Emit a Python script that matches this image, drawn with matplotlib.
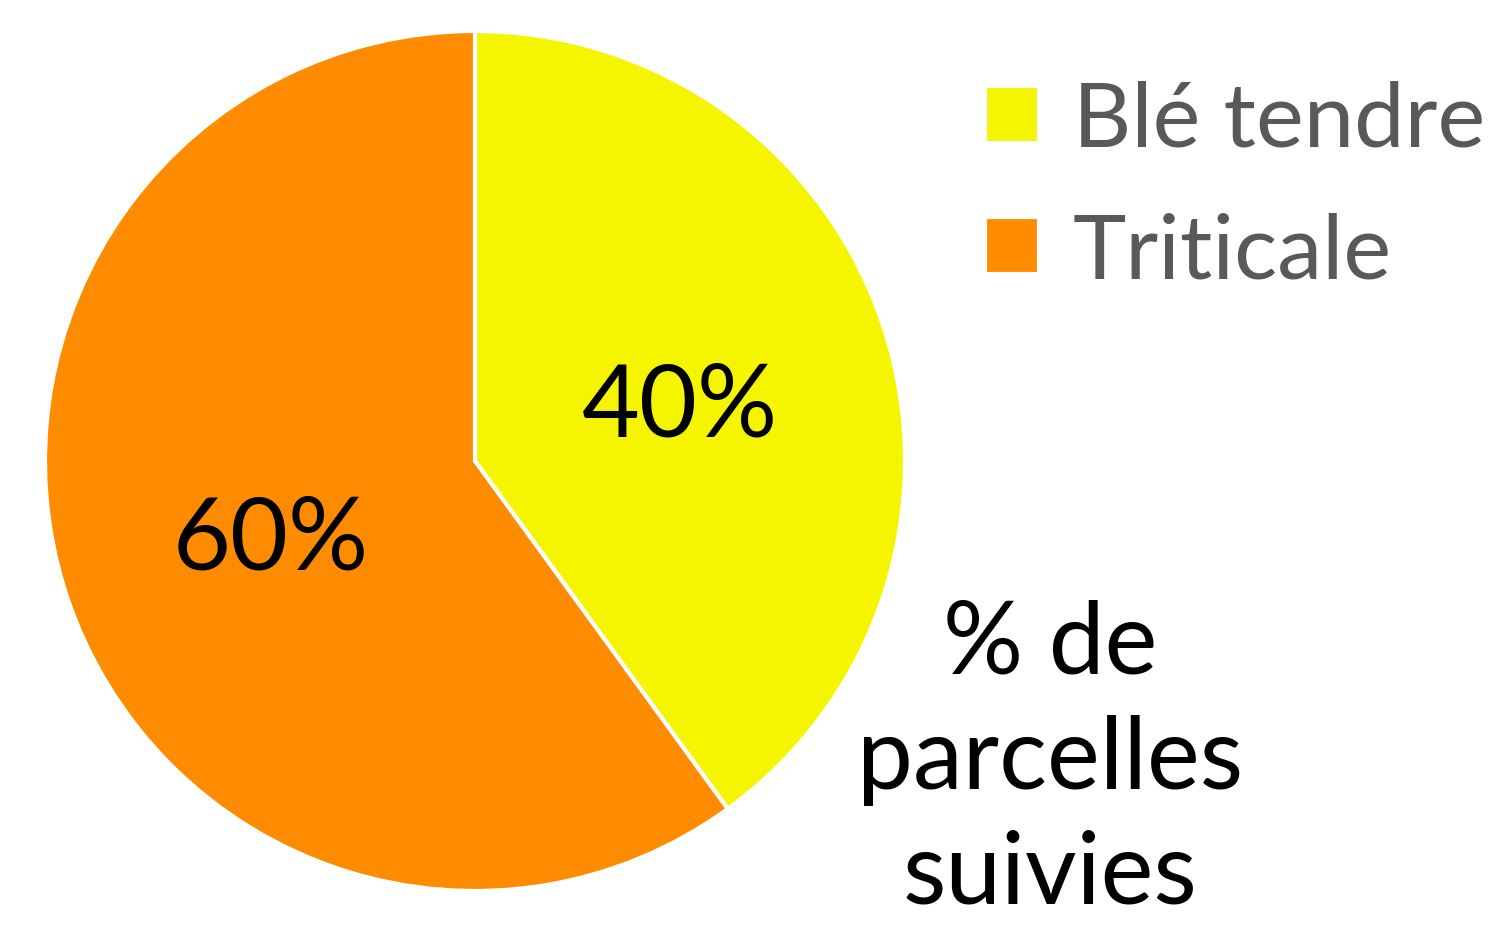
import matplotlib.pyplot as plt

# données
categories = ['Blé tendre', 'Triticale']
parts = [40, 60]
colors = ['#F5F500', '#FF8C00']
title_txt = '% de\nparcelles\nsuivies'

plt.rcParams['font.family'] = ['Lato', 'DejaVu Sans']

W, H = 1505, 928
fig = plt.figure(figsize=(W / 100, H / 100), dpi=100)

# camembert : centre (475, 462), rayon 430 px
cx, cy, r = 475, 462, 430
ax = fig.add_axes([(cx - r) / W, (H - cy - r) / H, 2 * r / W, 2 * r / H])
wedges, texts, autotexts = ax.pie(
    parts, colors=colors, startangle=90, counterclock=False,
    autopct='%1.0f%%', pctdistance=0.5,
    wedgeprops=dict(edgecolor='white', linewidth=3),
    textprops=dict(fontsize=72, color='black'))
for t in autotexts:
    x, y = t.get_position()
    t.set_position((x, y - 0.03))
ax.set_xlim(-1, 1)
ax.set_ylim(-1, 1)
ax.set_aspect('equal')

# légende
leg = fig.legend(wedges, categories, loc='upper left',
                 bbox_to_anchor=(985 / W, 1 - 81 / H), frameon=False,
                 fontsize=65, handlelength=0.6, handleheight=0.6,
                 handletextpad=0.37, labelspacing=0.55, borderpad=0,
                 borderaxespad=0)
for t in leg.get_texts():
    t.set_color('#595959')

fig.text(1050 / W, 1 - 760 / H, title_txt, ha='center', va='center',
         fontsize=72, linespacing=1.32, color='black')

fig.savefig('out.png', dpi=100)
